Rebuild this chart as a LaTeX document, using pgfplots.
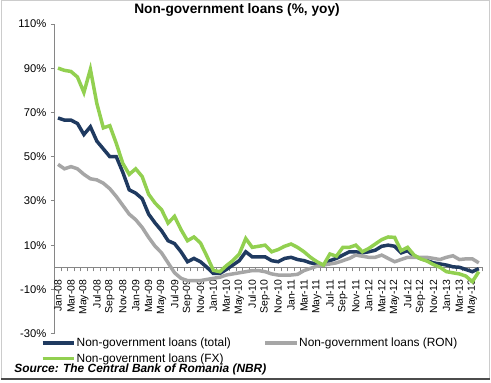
\documentclass[border=0pt]{standalone}
\usepackage{pgfplots}
\pgfplotsset{compat=1.18}
\usepackage{pgfplotstable}
\usepackage{fontspec}
\setmainfont{Liberation Sans}
\definecolor{navyc}{HTML}{1F3A60}
\definecolor{greenc}{HTML}{92D050}
\definecolor{grayc}{HTML}{A6A6A6}
\definecolor{axisc}{HTML}{868686}

\pgfplotstableread{
i total ron fx
0 67.5 46.5 90
1 66.5 44.5 89
2 66.5 45.5 88.5
3 65 44.5 86
4 60 42 79
5 63.5 40 89.5
6 57 39.5 74
7 53.5 38 63
8 50 35.5 64
9 50 32 56
10 43 28 47
11 35 24 42
12 33.5 21.5 44.5
13 31 18 41
14 24 13.5 33
15 20 9.5 29
16 16.5 6.5 26
17 12 2 20
18 10.7 -2.5 23
19 7 -5 17
20 2.5 -6 12
21 4 -6 13.7
22 2.5 -6 11
23 0 -5.5 5
24 -2.8 -5 -1.4
25 -2.8 -4.5 -2
26 -1 -3.5 0.7
27 1 -3 3
28 3 -2.5 6
29 7 -2 13
30 4.7 -1.5 9
31 4.7 -1.5 9.5
32 4.7 -2 10
33 3 -3 7
34 2.5 -3.5 8
35 4 -3.5 9.5
36 4.5 -3.5 10.5
37 3.5 -3.2 9
38 3 -1.5 7
39 2 -0.5 4.5
40 1.5 0.5 2.5
41 1 1 1
42 3 1.5 6
43 4 2 5
44 5.5 3 9
45 7 4 9
46 7 5.5 10
47 6.5 5 7
48 7 4.5 8.5
49 7.7 4.5 10.5
50 9.5 5.5 12.5
51 10 4 13.7
52 9.5 2.5 13.5
53 6.5 3.5 7.5
54 7.5 4.5 9
55 5 4.5 5.5
56 4 4.5 3.8
57 3 4.5 2.8
58 2 4 1.2
59 1.5 3.5 0
60 1 4.5 -2
61 0.2 5.2 -2.5
62 0 3.5 -3
63 -1 3.8 -4
64 -2 3.8 -6.5
65 -0.6 2 -2
}\loandata

\begin{document}
\begin{tikzpicture}[x=1bp,y=1bp]
\fill[white] (0,0) rectangle (491,384);
\draw[line width=0.8bp, color=black!20] (0.4,2.5) -- (0.4,383.6) -- (490.4,383.6) -- (490.4,2.5);
\draw[line width=2bp, color=black!70] (0,3) -- (491,3);
\node[font=\bfseries\fontsize{13.8}{16}\selectfont, anchor=center] at (237,374) {Non-government loans (\%, yoy)};
\begin{axis}[
  at={(54bp,49bp)}, anchor=south west,
  scale only axis, width=429bp, height=311bp,
  xmin=-0.5, xmax=65.5, ymin=-30, ymax=110,
  axis x line*=middle, axis y line*=left,
  axis line style={color=axisc, line width=0.8bp},
  ytick={-30,-10,10,30,50,70,90,110},
  yticklabels={-30\%,-10\%,10\%,30\%,50\%,70\%,90\%,110\%},
  yticklabel style={font=\fontsize{11.3}{13}\selectfont, xshift=-1bp},
  xtick={0,2,...,64},
  xticklabels={Jan-08,Mar-08,May-08,Jul-08,Sep-08,Nov-08,Jan-09,Mar-09,May-09,Jul-09,Sep-09,Nov-09,Jan-10,Mar-10,May-10,Jul-10,Sep-10,Nov-10,Jan-11,Mar-11,May-11,Jul-11,Sep-11,Nov-11,Jan-12,Mar-12,May-12,Jul-12,Sep-12,Nov-12,Jan-13,Mar-13,May-13},
  xticklabel style={rotate=90, anchor=east, font=\fontsize{10.5}{12}\selectfont, xshift=-5bp},
  minor xtick={-0.5,0.5,...,65.5},
  xtick align=outside, ytick align=outside,
  major x tick style={draw=none},
  major tick length=4bp, minor tick length=4bp,
  tick style={color=axisc, line width=0.8bp},
  clip=false,
  legend columns=2,
  legend cell align=left,
  legend image code/.code={\draw[#1, line width=3.5bp] (0bp,0bp) -- (32bp,0bp);},
  legend style={at={(axis description cs:-0.033,-0.008)}, anchor=north west, draw=none, fill=none,
    font=\fontsize{12}{14}\selectfont, inner sep=0pt, row sep=2.5bp,
    nodes={inner xsep=0.5bp, inner ysep=1.5bp},
    /tikz/every even column/.append style={column sep=32bp}},
]
\addplot[navyc, line width=3.5bp] table[x=i, y=total] {\loandata};
\addlegendentry{Non-government loans (total)}
\addplot[grayc, line width=3.5bp] table[x=i, y=ron] {\loandata};
\addlegendentry{Non-government loans (RON)}
\addplot[greenc, line width=3.5bp] table[x=i, y=fx] {\loandata};
\addlegendentry{Non-government loans (FX)}
\end{axis}
\node[font=\bfseries\itshape\fontsize{12}{14}\selectfont, anchor=west] at (10,13) {Source: The Central Bank of Romania (NBR)};
\end{tikzpicture}
\end{document}
